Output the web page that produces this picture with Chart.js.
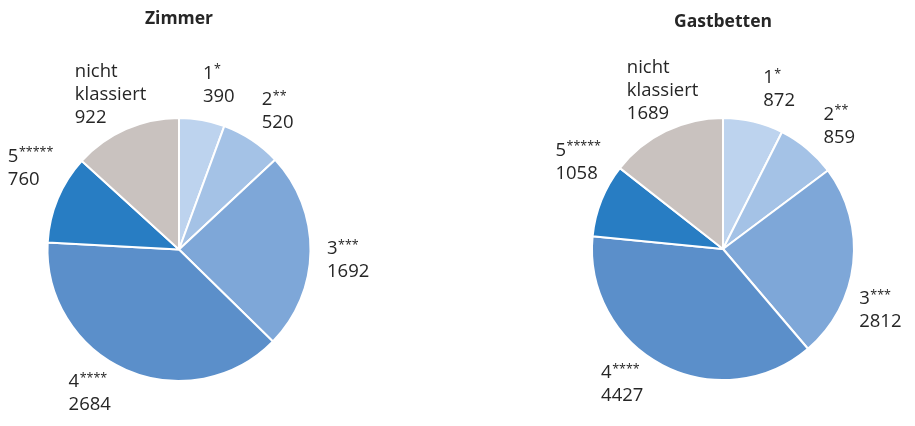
<!DOCTYPE html>
<html><head><meta charset="utf-8">
<script src="https://cdn.jsdelivr.net/npm/chart.js@4.4.1/dist/chart.umd.min.js"></script>
<style>
html,body{margin:0;padding:0;background:#fff;}
#wrap{position:relative;width:915px;height:426px;overflow:hidden;}
.box{position:absolute;top:0;height:426px;}
</style></head><body>
<div id="wrap">
<div class="box" style="left:0;width:457px"><canvas id="c1"></canvas></div>
<div class="box" style="left:457px;width:458px"><canvas id="c2"></canvas></div>
</div>
<script>
// ---- data ----
const categories = ['1*', '2**', '3***', '4****', '5*****', 'nicht klassiert'];
const zimmerValues = [390, 520, 1692, 2684, 760, 922];
const gastbettenValues = [872, 859, 2812, 4427, 1058, 1689];
const titleZimmer = 'Zimmer';
const titleGastbetten = 'Gastbetten';
const sliceColors = ['#bdd3ee', '#a4c2e6', '#7ea7d8', '#5b8fca', '#287dc3', '#c9c2bf'];

// label placement tweaks (degrees of rotation from slice middle, per slice)
const zimmerLabelNudge = [3.5, 2, 3, 8, 6, 0];
const gastLabelNudge = [6, 3.5, 15, 9, 9, 5];

const FONT = "'Open Sans', 'Noto Sans', sans-serif";
const TEXT = '#262626';

const outLabels = {
  id: 'outLabels',
  afterDatasetsDraw(chart, args, opts) {
    const ctx = chart.ctx;
    const meta = chart.getDatasetMeta(0);
    const ds = chart.data.datasets[0];
    const lh = opts.lineHeight;
    ctx.save();
    ctx.fillStyle = TEXT;
    ctx.textBaseline = 'middle';
    ctx.textAlign = 'left';
    meta.data.forEach((arc, i) => {
      const p = arc.getProps(['x', 'y', 'startAngle', 'endAngle', 'outerRadius'], true);
      const mid = (p.startAngle + p.endAngle) / 2 + (opts.nudge[i] || 0) * Math.PI / 180;
      const d = p.outerRadius + opts.gap;
      const cx = p.x + Math.cos(mid) * d;
      const cy = p.y + Math.sin(mid) * d;
      const lines = String(chart.data.labels[i]).split(' ');
      lines.push(String(ds.data[i]));
      const parts = lines.map(t => {
        const m = /^(\d+)(\*+)$/.exec(t);
        return m ? [m[1], m[2]] : [t, ''];
      });
      const widths = parts.map(([a, b]) => {
        ctx.font = `${opts.size}px ${FONT}`;
        let w = ctx.measureText(a).width;
        if (b) { ctx.font = `${opts.supSize}px ${FONT}`; w += ctx.measureText(b).width; }
        return w;
      });
      const bw = Math.max(...widths);
      const x0 = cx - bw / 2;
      const y0 = cy - (lines.length - 1) * lh / 2;
      parts.forEach(([a, b], k) => {
        const y = y0 + k * lh;
        ctx.font = `${opts.size}px ${FONT}`;
        ctx.fillText(a, x0, y);
        if (b) {
          const w = ctx.measureText(a).width;
          ctx.font = `${opts.supSize}px ${FONT}`;
          ctx.fillText(b, x0 + w + 0.5, y - opts.supRaise);
        }
      });
    });
    ctx.restore();
  }
};

function makePie(id, title, values, nudge, pad, titleTop, titleGap) {
  return new Chart(document.getElementById(id), {
    type: 'pie',
    data: {
      labels: categories,
      datasets: [{
        data: values,
        backgroundColor: sliceColors,
        borderColor: '#ffffff',
        borderWidth: 2
      }]
    },
    options: {
      responsive: true,
      maintainAspectRatio: false,
      animation: false,
      layout: { padding: { left: pad[0], right: pad[1], top: titleTop, bottom: pad[2] } },
      plugins: {
        legend: { display: false },
        tooltip: { enabled: false },
        title: {
          display: true,
          text: title,
          color: TEXT,
          font: { family: FONT, size: 17.5, weight: 'bold', lineHeight: 1.2 },
          padding: { top: 0, bottom: titleGap }
        },
        outLabels: { size: 18.5, supSize: 12.5, supRaise: 4, lineHeight: 23, gap: 38, nudge: nudge }
      }
    },
    plugins: [outLabels]
  });
}

makePie('c1', titleZimmer, zimmerValues, zimmerLabelNudge, [46.5, 145.5, 44], 9, 87);
makePie('c2', titleGastbetten, gastbettenValues, gastLabelNudge, [134, 60, 45], 12, 84);
</script>
</body></html>
